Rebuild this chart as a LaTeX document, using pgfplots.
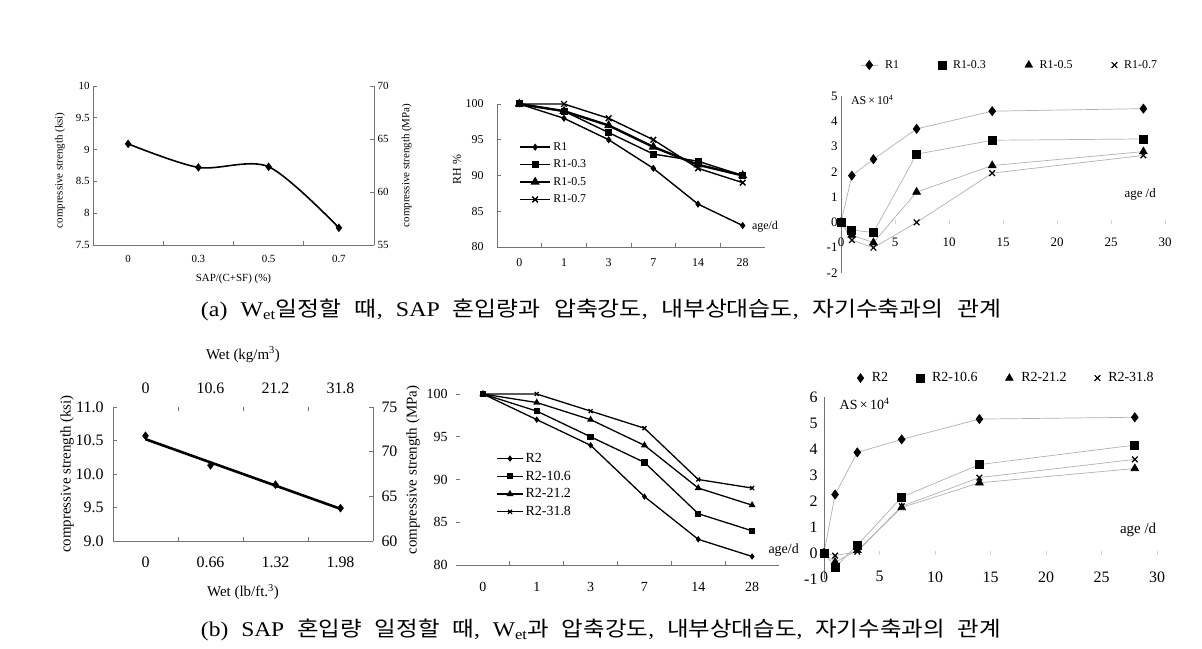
\documentclass[border=0pt]{standalone}
\usepackage{fontspec}
\usepackage{graphicx}
\setmainfont{Liberation Serif}
\newfontfamily\kr{Noto Sans CJK KR}
\usepackage{pgfplots}
\pgfplotsset{compat=1.18}
\newcommand{\fs}[1]{\fontsize{#1}{#1}\selectfont}
\definecolor{axgray}{gray}{0.45}
\pgfplotsset{
  base/.style={scale only axis, clip=false, anchor=south west,
    /pgf/number format/assume math mode=true,
    axis line style={axgray, line width=0.8bp},
    tick style={axgray, line width=0.8bp},
    tick align=inside, major tick length=0pt, minor tick length=4bp,
    legend cell align=left,
    legend style={draw=none, fill=none},
  },
}
\begin{document}
\begin{tikzpicture}
\useasboundingbox (0,0) rectangle (1202bp,649bp);
\fill[white] (0,0) rectangle (1202bp,649bp);

% ---------------- Panel 1 ----------------
\begin{axis}[base, at={(93bp,404bp)}, width=281bp, height=159bp,
  xmin=-0.5, xmax=3.5, ymin=7.5, ymax=10,
  axis x line*=bottom, axis y line*=left,
  xtick={0,1,2,3}, xticklabels={0,0.3,0.5,0.7}, minor xtick={0.5,1.5,2.5},
  ytick={7.5,8,8.5,9,9.5,10}, yticklabels={7.5,8,8.5,9,9.5,10}, minor ytick={7.5,8,8.5,9,9.5,10},
  tick label style={font=\fs{11}}, xticklabel style={yshift=-7bp},
  label style={font=\fs{11}},
  xlabel={SAP/(C+SF) (\%)}, xlabel style={at={(axis description cs:0.5,-0.21)}, anchor=center},
  ylabel={compressive strength (ksi)}, ylabel style={at={(axis description cs:-0.117,0.47)}, anchor=center},
]
\addplot[black, line width=1.6bp, smooth, mark=diamond*, mark size=3bp] coordinates {(0,9.09)(1,8.72)(2,8.73)(3,7.77)};
\end{axis}
\begin{axis}[base, at={(93bp,404bp)}, width=281bp, height=159bp,
  xmin=-0.5, xmax=3.5, ymin=55, ymax=70,
  axis x line=none, axis y line*=right,
  ytick={55,60,65,70}, minor ytick={55,60,65,70},
  tick label style={font=\fs{11}}, label style={font=\fs{11}},
  ylabel={compressive strength (MPa)}, ylabel style={at={(axis description cs:1.117,0.5)}, anchor=center},
]
\addplot[draw=none] coordinates {(0,60)};
\end{axis}

% ---------------- Panel 2 ----------------
\begin{axis}[base, at={(497bp,402bp)}, width=268bp, height=143bp,
  xmin=-0.5, xmax=5.5, ymin=80, ymax=100,
  axis x line*=bottom, axis y line*=left,
  xtick={0,...,5}, xticklabels={0,1,3,7,14,28}, minor xtick={0.5,1.5,2.5,3.5,4.5},
  ytick={80,85,90,95,100}, minor ytick={80,85,90,95,100},
  tick label style={font=\fs{12}}, xticklabel style={yshift=-8bp}, yticklabel style={xshift=-10bp},
  ylabel={RH \%}, label style={font=\fs{12}}, ylabel style={at={(axis description cs:-0.149,0.54)},anchor=center},
  legend style={at={(axis description cs:0.07,0.76)}, anchor=north west, font=\fs{12}, row sep=4bp},
  legend image code/.code={\draw[mark repeat=2,mark phase=2] plot coordinates {(0bp,0bp)(15bp,0bp)(30bp,0bp)};},
]
\addplot[black, line width=1.4bp, mark=diamond*, mark size=2.5bp] coordinates {(0,100)(1,98)(2,95)(3,91)(4,86)(5,83)};
\addlegendentry{R1}
\addplot[black, line width=1.4bp, mark=square*, mark size=2.8bp] coordinates {(0,100)(1,99)(2,96)(3,93)(4,92)(5,90)};
\addlegendentry{R1-0.3}
\addplot[black, line width=2.4bp, mark=triangle*, mark size=3bp] coordinates {(0,100)(1,99)(2,97)(3,94)(4,91.5)(5,90)};
\addlegendentry{R1-0.5}
\addplot[black, line width=1.4bp, mark=x, mark size=4bp] coordinates {(0,100)(1,100)(2,98)(3,95)(4,91)(5,89)};
\addlegendentry{R1-0.7}
\node[font=\fs{12}] at (axis cs:5.5,82.8) {age/d};
\end{axis}

% ---------------- Panel 3 ----------------
\begin{axis}[base, at={(841bp,376bp)}, width=324bp, height=177bp,
  xmin=0, xmax=30, ymin=-2, ymax=5,
  axis x line=middle, axis y line*=left, hide obscured x ticks=false,
  x axis line style={draw=none},
  xtick={0,5,...,30}, minor xtick={5,10,...,30}, ytick={-2,...,5},
  minor tick style={gray!35},
  tick label style={font=\fs{13}}, xticklabel style={yshift=-12bp},
  legend columns=4,
  legend style={at={(axis description cs:0.05,1.175)}, anchor=west, font=\fs{12},
    /tikz/every odd column/.append style={column sep=5bp},
    /tikz/every even column/.append style={column sep=37bp}},
]
\addplot[gray!60, line width=0.7bp, mark=diamond*, mark options={black}, mark size=4.5bp, forget plot] coordinates {(0,0)(1,1.85)(3,2.5)(7,3.7)(14,4.4)(28,4.5)};
\addplot[gray!60, line width=0.7bp, mark=square*, mark options={black}, mark size=4bp, forget plot] coordinates {(0,0)(1,-0.3)(3,-0.4)(7,2.7)(14,3.25)(28,3.3)};
\addplot[gray!60, line width=0.7bp, mark=triangle*, mark options={black}, mark size=4.5bp, forget plot] coordinates {(0,0)(1,-0.5)(3,-0.8)(7,1.2)(14,2.25)(28,2.8)};
\addplot[gray!60, line width=0.7bp, mark=x, mark options={black, line width=1.2bp}, mark size=4bp, forget plot] coordinates {(0,0)(1,-0.7)(3,-1.0)(7,0)(14,1.95)(28,2.65)};
\addlegendimage{gray!60, line width=0.7bp, mark=diamond*, mark options={black}, mark size=4.5bp}
\addlegendentry{R1}
\addlegendimage{only marks, mark=square*, mark options={black}, mark size=4bp}
\addlegendentry{R1-0.3}
\addlegendimage{only marks, mark=triangle*, mark options={black}, mark size=4.5bp}
\addlegendentry{R1-0.5}
\addlegendimage{only marks, mark=x, mark options={black, line width=1.2bp}, mark size=4bp}
\addlegendentry{R1-0.7}
\node[font=\fs{12}, anchor=west] at (axis cs:0.6,4.85) {AS\,×\,10\textsuperscript{4}};
\node[font=\fs{13}] at (axis cs:27.7,1.1) {age /d};
\end{axis}

% ---------------- Panel 4 ----------------
\begin{axis}[base, at={(113bp,108bp)}, width=260bp, height=134bp,
  xmin=-0.5, xmax=3.5, ymin=9, ymax=11,
  axis x line*=bottom, axis y line*=left,
  xtick={0,1,2,3}, xticklabels={0,0.66,1.32,1.98}, minor xtick={0.5,1.5,2.5},
  ytick={9,9.5,10,10.5,11}, yticklabels={9.0,9.5,10.0,10.5,11.0}, minor ytick={9,9.5,10,10.5,11},
  tick label style={font=\fs{16}}, xticklabel style={yshift=-12bp}, yticklabel style={xshift=-6bp},
  label style={font=\fs{15}},
  xlabel={Wet (lb/ft.\textsuperscript{3})}, xlabel style={at={(axis description cs:0.5,-0.38)}, anchor=center},
  ylabel={compressive strength (ksi)}, ylabel style={at={(axis description cs:-0.177,0.5)}, anchor=center},
]
\addplot[black, line width=2.6bp, no marks] coordinates {(0,10.52)(3,9.48)};
\addplot[black, only marks, mark=diamond*, mark size=4bp] coordinates {(0,10.57)(1,10.13)(2,9.84)(3,9.49)};
\end{axis}
\begin{axis}[base, at={(113bp,108bp)}, width=260bp, height=134bp,
  xmin=-0.5, xmax=3.5, ymin=60, ymax=75,
  axis x line*=top, axis y line*=right, x axis line style={draw=none},
  xtick={0,1,2,3}, xticklabels={0,10.6,21.2,31.8}, minor xtick={0.5,1.5,2.5},
  ytick={60,65,70,75}, minor ytick={60,65,70,75},
  tick label style={font=\fs{16}}, xticklabel style={yshift=10bp}, yticklabel style={xshift=5bp},
  label style={font=\fs{15}},
  xlabel={Wet (kg/m\textsuperscript{3})}, xlabel style={at={(axis description cs:0.5,1.39)}, anchor=center},
  ylabel={compressive strength (MPa)}, ylabel style={at={(axis description cs:1.154,0.53)}, anchor=center},
]
\addplot[draw=none] coordinates {(0,65)};
\end{axis}

% ---------------- Panel 5 ----------------
\begin{axis}[base, at={(456bp,84bp)}, width=323bp, height=171bp,
  xmin=-0.5, xmax=5.5, ymin=80, ymax=100,
  axis x line*=bottom, axis y line*=left, y axis line style={draw=none},
  xtick={0,...,5}, xticklabels={0,1,3,7,14,28}, minor xtick={0.5,1.5,2.5,3.5,4.5},
  ytick={80,85,90,95,100}, minor ytick={80,85,90,95,100},
  tick label style={font=\fs{14}}, xticklabel style={yshift=-14bp}, yticklabel style={xshift=-5bp},
  legend style={at={(axis description cs:0.115,0.678)}, anchor=north west, font=\fs{14}, row sep=3bp},
  legend image code/.code={\draw[mark repeat=2,mark phase=2] plot coordinates {(0bp,0bp)(13bp,0bp)(26bp,0bp)};},
]
\addplot[black, line width=1.3bp, mark=diamond*, mark size=2.2bp] coordinates {(0,100)(1,97)(2,94)(3,88)(4,83)(5,81)};
\addlegendentry{R2}
\addplot[black, line width=1.3bp, mark=square*, mark size=2.5bp] coordinates {(0,100)(1,98)(2,95)(3,92)(4,86)(5,84)};
\addlegendentry{R2-10.6}
\addplot[black, line width=1.3bp, mark=triangle*, mark size=2.8bp] coordinates {(0,100)(1,99)(2,97)(3,94)(4,89)(5,87)};
\addlegendentry{R2-21.2}
\addplot[black, line width=1.3bp, mark=x, mark size=2.8bp] coordinates {(0,100)(1,100)(2,98)(3,96)(4,90)(5,89)};
\addlegendentry{R2-31.8}
\node[font=\fs{14}, anchor=west] at (axis cs:5.24,81.75) {age/d};
\end{axis}

% ---------------- Panel 6 ----------------
\begin{axis}[base, at={(824bp,70bp)}, width=333bp, height=182bp,
  xmin=0, xmax=30, ymin=-1, ymax=6,
  axis x line=middle, axis y line*=left, hide obscured x ticks=false,
  x axis line style={draw=none},
  xtick={0,5,...,30}, minor xtick={5,10,...,30}, ytick={-1,...,6},
  minor tick style={gray!35},
  tick label style={font=\fs{16}}, xticklabel style={yshift=-15bp}, yticklabel style={xshift=-3bp},
  legend columns=4,
  legend style={at={(axis description cs:0.09,1.104)}, anchor=west, font=\fs{14},
    /tikz/every odd column/.append style={column sep=6bp},
    /tikz/every even column/.append style={column sep=26bp}},
]
\addplot[gray!60, line width=0.7bp, mark=diamond*, mark options={black}, mark size=4.5bp, forget plot] coordinates {(0,0)(1,2.25)(3,3.87)(7,4.37)(14,5.15)(28,5.22)};
\addplot[gray!60, line width=0.7bp, mark=square*, mark options={black}, mark size=4bp, forget plot] coordinates {(0,0)(1,-0.55)(3,0.3)(7,2.15)(14,3.4)(28,4.15)};
\addplot[gray!60, line width=0.7bp, mark=triangle*, mark options={black}, mark size=4.5bp, forget plot] coordinates {(0,0)(1,-0.35)(3,0.1)(7,1.75)(14,2.7)(28,3.25)};
\addplot[gray!60, line width=0.7bp, mark=x, mark options={black, line width=1.2bp}, mark size=4bp, forget plot] coordinates {(0,0)(1,-0.1)(3,0.05)(7,1.8)(14,2.9)(28,3.6)};
\addlegendimage{only marks, mark=diamond*, mark options={black}, mark size=4.5bp}
\addlegendentry{R2}
\addlegendimage{only marks, mark=square*, mark options={black}, mark size=4bp}
\addlegendentry{R2-10.6}
\addlegendimage{only marks, mark=triangle*, mark options={black}, mark size=4.5bp}
\addlegendentry{R2-21.2}
\addlegendimage{only marks, mark=x, mark options={black, line width=1.2bp}, mark size=4bp}
\addlegendentry{R2-31.8}
\node[font=\fs{14}, anchor=west] at (axis cs:1.1,5.75) {AS\,×\,10\textsuperscript{4}};
\node[font=\fs{15}] at (axis cs:28.3,0.88) {age /d};
\end{axis}

% ---------------- Captions ----------------
\node at (601bp,339bp) {\resizebox{800bp}{\height}{\fs{21}\spaceskip=0.55em\relax (a) W\textsubscript{et}{\kr 일정할}\ {\kr 때}, SAP {\kr 혼입량과} {\kr 압축강도}, {\kr 내부상대습도}, {\kr 자기수축과의} {\kr 관계}}};
\node at (601bp,19bp) {\resizebox{800bp}{\height}{\fs{21}\spaceskip=0.55em\relax (b) SAP {\kr 혼입량} {\kr 일정할} {\kr 때}, W\textsubscript{et}{\kr 과} {\kr 압축강도}, {\kr 내부상대습도}, {\kr 자기수축과의} {\kr 관계}}};
\end{tikzpicture}
\end{document}
